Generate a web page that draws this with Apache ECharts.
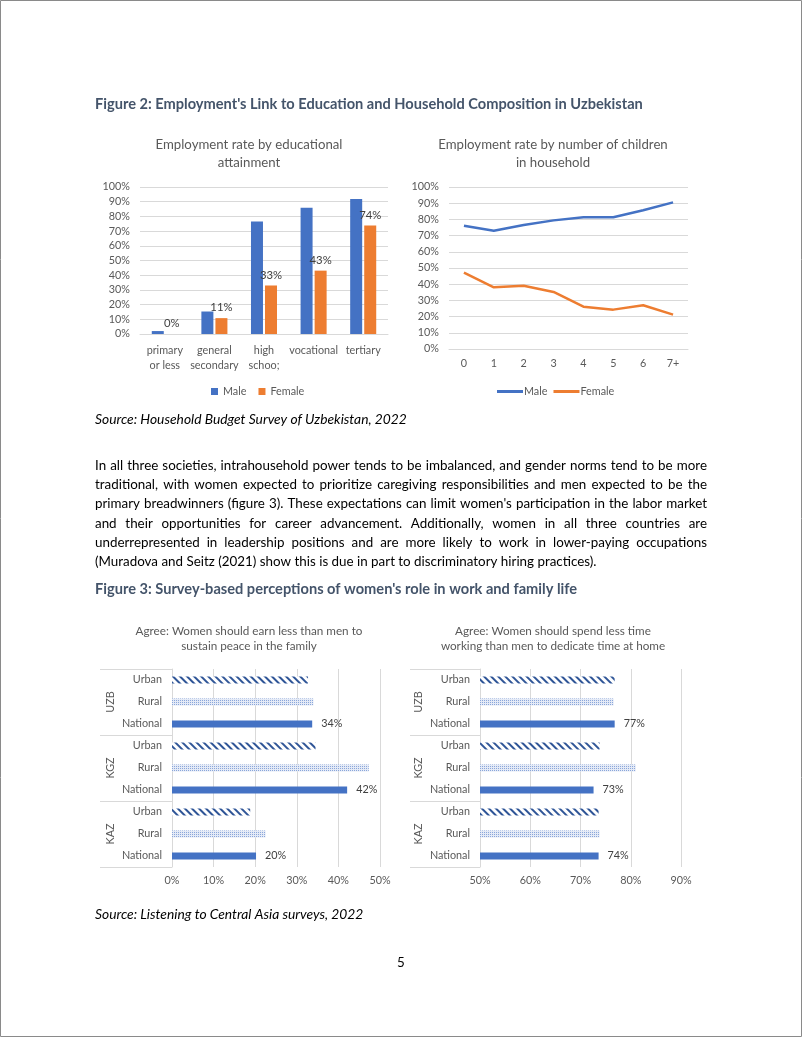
<!DOCTYPE html>
<html><head><meta charset="utf-8">
<script src="https://cdn.jsdelivr.net/npm/echarts@6/dist/echarts.min.js"></script>
<style>html,body{margin:0;padding:0;background:#fff}#c{width:802px;height:1037px}</style>
</head><body><div id="c"></div>
<script>
// ---------- data ----------
const eduCategories = ['primary\nor less', 'general\nsecondary', 'high\nschoo;', 'vocational', 'tertiary'];
const eduMale = [2, 15.3, 76.5, 85.8, 91.9];
const eduFemale = [0, 10.8, 33, 43.1, 73.8];

const childCategories = ['0', '1', '2', '3', '4', '5', '6', '7+'];
const childMale = [76.1, 73.0, 76.5, 79.4, 81.3, 81.3, 85.6, 90.5];
const childFemale = [47.1, 38.1, 39.1, 35.2, 26.1, 24.3, 27.0, 21.2];

const countries = ['UZB', 'KGZ', 'KAZ'];
const areas = ['Urban', 'Rural', 'National'];
// per country [UZB, KGZ, KAZ]
const earnUrban = [32.7, 34.5, 18.8];
const earnRural = [34.0, 47.3, 22.5];
const earnNational = [33.7, 42.1, 20.2];
const timeUrban = [76.8, 73.8, 73.6];
const timeRural = [76.6, 81.0, 73.8];
const timeNational = [76.8, 72.6, 73.6];

const paragraphLines = [
  "In all three societies, intrahousehold power tends to be imbalanced, and gender norms tend to be more",
  "traditional, with women expected to prioritize caregiving responsibilities and men expected to be the",
  "primary breadwinners (figure 3). These expectations can limit women's participation in the labor market",
  "and their opportunities for career advancement. Additionally, women in all three countries are",
  "underrepresented in leadership positions and are more likely to work in lower-paying occupations",
  "(Muradova and Seitz (2021) show this is due in part to discriminatory hiring practices)."
];

// ---------- fonts / measuring ----------
const FAM = 'Lato';
const mctx = document.createElement('canvas').getContext('2d');
function tw(t, size, weight, style) {
  mctx.font = (style || 'normal') + ' ' + (weight || 'normal') + ' ' + size + 'px ' + FAM;
  return mctx.measureText(t).width;
}
function fit(t, target, weight, style) { return +(100 * target / tw(t, 100, weight, style)).toFixed(2); }

const FS_AXIS = fit('vocational', 48.7);
const FS_T1 = fit('Employment rate by educational', 187);
const FS_T3 = fit('Agree: Women should earn less than men to', 227);
const FS_BODY = fit(paragraphLines[5], 502);
const FS_HEAD = fit("Figure 2: Employment's Link to Education and Household Composition in Uzbekistan", 548, 'bold');
const FS_SRC = fit('Source: Household Budget Survey of Uzbekistan, 2022', 312, 'normal', 'italic');

const gray = '#595959', gridC = '#D9D9D9', blue = '#4472C4', orange = '#ED7D31', headC = '#44546A';

// ---------- graphic texts ----------
const graphics = [];
graphics.push({type: 'rect', shape: {x: 0.5, y: 0.5, width: 801, height: 1036}, style: {fill: 'none', stroke: '#8a8a8a', lineWidth: 1}});
function txt(text, x, y, size, opts) {
  opts = opts || {};
  graphics.push({type: 'text', x: x, y: y, style: {
    text: text, fill: opts.fill || '#000',
    font: (opts.style || 'normal') + ' ' + (opts.weight || 'normal') + ' ' + size + 'px ' + FAM,
    align: opts.align || 'left', textAlign: opts.align || 'left',
    verticalAlign: 'middle', textVerticalAlign: 'middle'
  }});
}
txt("Figure 2: Employment's Link to Education and Household Composition in Uzbekistan", 95, 104, FS_HEAD, {weight: 'bold', fill: headC});
txt('Source: Household Budget Survey of Uzbekistan, 2022', 95, 420, FS_SRC, {style: 'italic'});
txt("Figure 3: Survey-based perceptions of women's role in work and family life", 95, 589, FS_HEAD, {weight: 'bold', fill: headC});
txt('Source: Listening to Central Asia surveys, 2022', 95, 915, FS_SRC, {style: 'italic'});
txt('5', 401, 963, FS_BODY, {align: 'center'});

// justified paragraph
const PX0 = 95, PX1 = 707, PY0 = 465.7, PDY = 19.2;
paragraphLines.forEach(function (line, i) {
  const y = PY0 + i * PDY;
  if (i === paragraphLines.length - 1) { txt(line, PX0, y, FS_BODY); return; }
  const words = line.split(' ');
  const ws = words.map(function (w) { return tw(w, FS_BODY); });
  const total = ws.reduce(function (a, b) { return a + b; }, 0);
  const gap = (PX1 - PX0 - total) / (words.length - 1);
  let x = PX0;
  words.forEach(function (w, k) { txt(w, x, y, FS_BODY); x += ws[k] + gap; });
});

// ---------- survey data build ----------
const rowLabels = [];
countries.forEach(function () { areas.forEach(function (a) { rowLabels.push(a); }); });
const styleUrban = {color: '#ffffff', decal: {symbol: 'rect', symbolSize: 1, color: '#2F5597', dashArrayX: [1, 0], dashArrayY: [2, 3], rotation: Math.PI / 4}};
const styleRural = {color: '#E4EAF6', decal: {symbol: 'rect', symbolSize: 1, color: '#8AA6DA', dashArrayX: [1, 1], dashArrayY: [1, 1], rotation: 0}};
const styleNational = {color: blue};
function buildSurvey(u, r, n) {
  const out = [];
  countries.forEach(function (c, ci) {
    out.push({value: u[ci], itemStyle: styleUrban, label: {show: false}});
    out.push({value: r[ci], itemStyle: styleRural, label: {show: false}});
    out.push({value: n[ci], itemStyle: styleNational, label: {show: true}});
  });
  return out;
}

const axisLbl = {color: gray, fontSize: FS_AXIS, fontFamily: FAM};
const titleStyle = function (fs, lh) { return {fontSize: fs, fontWeight: 'normal', color: gray, fontFamily: FAM, lineHeight: lh}; };

const option = {
  animation: false,
  backgroundColor: '#fff',
  textStyle: {fontFamily: FAM},
  graphic: graphics,
  title: [
    {text: 'Employment rate by educational\nattainment', left: 249, top: 136, padding: 0, textAlign: 'center', textStyle: titleStyle(FS_T1, 17.5)},
    {text: 'Employment rate by number of children\nin household', left: 553, top: 136, padding: 0, textAlign: 'center', textStyle: titleStyle(FS_T1, 17.5)},
    {text: 'Agree: Women should earn less than men to\nsustain peace in the family', left: 249, top: 623.5, padding: 0, textAlign: 'center', textStyle: titleStyle(FS_T3, 15)},
    {text: 'Agree: Women should spend less time\nworking than men to dedicate time at home', left: 553, top: 623.5, padding: 0, textAlign: 'center', textStyle: titleStyle(FS_T3, 15)}
  ],
  legend: [
    {data: ['Male', 'Female'], left: 206, top: 381, icon: 'rect', itemWidth: 7, itemHeight: 7, itemGap: 12,
     textStyle: {color: gray, fontSize: FS_AXIS, fontFamily: FAM}},
    {data: ['Male (children)', 'Female (children)'], left: 492, top: 381, icon: 'rect', itemWidth: 26, itemHeight: 3, itemGap: 6,
     formatter: function (n) { return n.split(' ')[0]; },
     textStyle: {color: gray, fontSize: FS_AXIS, fontFamily: FAM, padding: [0, 0, 0, -4]}}
  ],
  grid: [
    {left: 140, top: 187, width: 248, height: 147, outerBoundsMode: 'none'},
    {left: 449, top: 187, width: 239, height: 162, outerBoundsMode: 'none'},
    {left: 172, top: 669, width: 208, height: 198, outerBoundsMode: 'none'},
    {left: 480, top: 669, width: 201, height: 198, outerBoundsMode: 'none'}
  ],
  xAxis: [
    {gridIndex: 0, type: 'category', data: eduCategories, axisLine: {lineStyle: {color: gridC}}, axisTick: {show: false},
     axisLabel: Object.assign({margin: 9, lineHeight: 15, interval: 0}, axisLbl)},
    {gridIndex: 1, type: 'category', data: childCategories, axisLine: {lineStyle: {color: gridC}}, axisTick: {show: false},
     axisLabel: Object.assign({margin: 9, interval: 0}, axisLbl)},
    {gridIndex: 2, type: 'value', min: 0, max: 50, interval: 10, axisLine: {show: false}, axisTick: {show: false},
     splitLine: {lineStyle: {color: gridC}}, axisLabel: Object.assign({margin: 8, formatter: '{value}%'}, axisLbl)},
    {gridIndex: 3, type: 'value', min: 50, max: 90, interval: 10, axisLine: {show: false}, axisTick: {show: false},
     splitLine: {lineStyle: {color: gridC}}, axisLabel: Object.assign({margin: 8, formatter: '{value}%'}, axisLbl)}
  ],
  yAxis: [
    {gridIndex: 0, type: 'value', min: 0, max: 100, interval: 10, axisLine: {show: false}, axisTick: {show: false},
     splitLine: {lineStyle: {color: gridC}}, axisLabel: Object.assign({margin: 10, formatter: '{value}%'}, axisLbl)},
    {gridIndex: 1, type: 'value', min: 0, max: 100, interval: 10, axisLine: {show: false}, axisTick: {show: false},
     splitLine: {lineStyle: {color: gridC}}, axisLabel: Object.assign({margin: 10, formatter: '{value}%'}, axisLbl)},
    {gridIndex: 2, type: 'category', inverse: true, data: rowLabels, position: 'left', axisLine: {show: true, lineStyle: {color: gridC}},
     axisTick: {show: false}, axisLabel: Object.assign({margin: 10, interval: 0}, axisLbl)},
    {gridIndex: 2, type: 'category', inverse: true, data: countries, position: 'left', offset: 0, axisLine: {show: false},
     axisTick: {show: true, length: 72, lineStyle: {color: gridC}}, axisLabel: Object.assign({margin: 56, rotate: 90, interval: 0}, axisLbl)},
    {gridIndex: 3, type: 'category', inverse: true, data: rowLabels, position: 'left', axisLine: {show: true, lineStyle: {color: gridC}},
     axisTick: {show: false}, axisLabel: Object.assign({margin: 10, interval: 0}, axisLbl)},
    {gridIndex: 3, type: 'category', inverse: true, data: countries, position: 'left', offset: 0, axisLine: {show: false},
     axisTick: {show: true, length: 70, lineStyle: {color: gridC}}, axisLabel: Object.assign({margin: 56, rotate: 90, interval: 0}, axisLbl)}
  ],
  series: [
    {name: 'Male', type: 'bar', xAxisIndex: 0, yAxisIndex: 0, data: eduMale, barWidth: 12, barGap: '17%', itemStyle: {color: blue}},
    {name: 'Female', type: 'bar', xAxisIndex: 0, yAxisIndex: 0, data: eduFemale, barWidth: 12, barGap: '17%', itemStyle: {color: orange},
     label: {show: true, position: 'top', distance: 5, color: '#404040', fontSize: FS_AXIS + 0.5, fontFamily: FAM,
             formatter: function (p) { return Math.round(p.value) + '%'; }}},
    {name: 'Male (children)', type: 'line', xAxisIndex: 1, yAxisIndex: 1, data: childMale, symbol: 'none',
     lineStyle: {color: blue, width: 2.5}, itemStyle: {color: blue}},
    {name: 'Female (children)', type: 'line', xAxisIndex: 1, yAxisIndex: 1, data: childFemale, symbol: 'none',
     lineStyle: {color: orange, width: 2.5}, itemStyle: {color: orange}},
    {name: 'earn', type: 'bar', xAxisIndex: 2, yAxisIndex: 2, data: buildSurvey(earnUrban, earnRural, earnNational), barWidth: 7,
     label: {position: 'right', distance: 9, color: '#404040', fontSize: FS_AXIS, fontFamily: FAM,
             formatter: function (p) { return Math.round(p.value) + '%'; }}},
    {name: 'time', type: 'bar', xAxisIndex: 3, yAxisIndex: 4, data: buildSurvey(timeUrban, timeRural, timeNational), barWidth: 7, clip: true,
     label: {position: 'right', distance: 9, color: '#404040', fontSize: FS_AXIS, fontFamily: FAM,
             formatter: function (p) { return Math.round(p.value) + '%'; }}}
  ]
};

const chart = echarts.init(document.getElementById('c'), null, {renderer: 'canvas'});
chart.setOption(option);
</script>
</body></html>
